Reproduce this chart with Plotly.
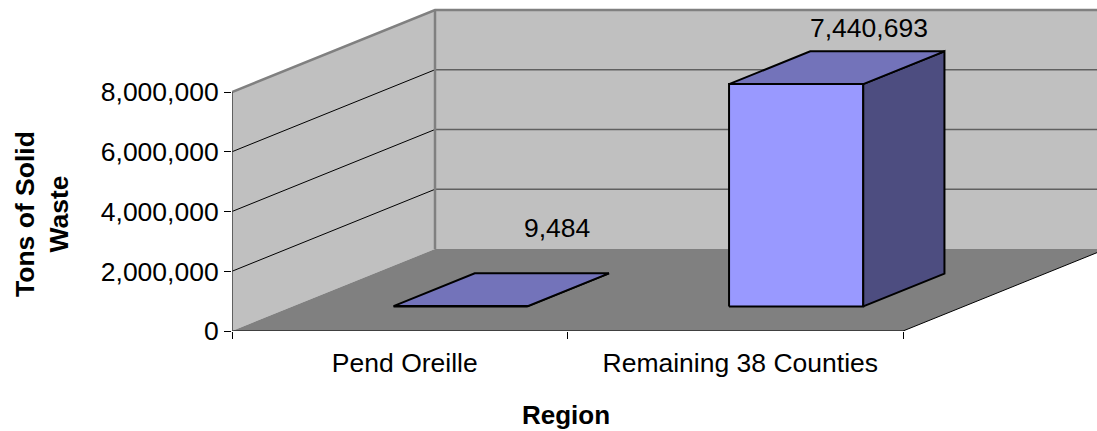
import plotly.graph_objects as go

categories = ["Pend Oreille", "Remaining 38 Counties"]
values = [9484, 7440693]
value_ticks = [0, 2000000, 4000000, 6000000, 8000000]

AXIS_MAX = 8000000
DEPTH_X = 203 / 335.5     # oblique projection: category units per full depth
DEPTH_Y = AXIS_MAX * 82 / 239   # value units per full depth
BAR_WIDTH = 0.4
BAR_D0, BAR_D1 = 0.3, 0.7
N = len(categories)
FONT = "Liberation Sans, Arial, sans-serif"


def proj(x, y, d):
    return x + d * DEPTH_X, y + d * DEPTH_Y


fig = go.Figure()


def poly(points, fill=None, line=None, width=1.0, close=True):
    pts = [proj(*p) for p in points]
    if close:
        pts.append(pts[0])
    fig.add_trace(go.Scatter(
        x=[p[0] for p in pts], y=[p[1] for p in pts], mode="lines",
        fill="toself" if fill else None, fillcolor=fill,
        line=dict(color=line or "rgba(0,0,0,0)", width=width),
        hoverinfo="skip", showlegend=False))


# walls and floor
poly([(0, 0, 1), (N, 0, 1), (N, AXIS_MAX, 1), (0, AXIS_MAX, 1)], fill="#C0C0C0")
poly([(0, 0, 0), (0, 0, 1), (0, AXIS_MAX, 1), (0, AXIS_MAX, 0)], fill="#C0C0C0")
poly([(0, 0, 0), (N, 0, 0), (N, 0, 1), (0, 0, 1)], fill="#808080")

# gridlines
for v in value_ticks[1:-1]:
    poly([(0, v, 0), (0, v, 1)], line="#000000", width=1, close=False)
    poly([(0, v, 1), (N, v, 1)], line="#606060", width=1.5, close=False)

# wall borders
poly([(0, AXIS_MAX, 0), (0, AXIS_MAX, 1), (N, AXIS_MAX, 1)], line="#808080", width=2.5, close=False)
poly([(0, 0, 1), (0, AXIS_MAX, 1)], line="#808080", width=2.5, close=False)
poly([(0, 0, 0), (N, 0, 0), (N, 0, 1)], line="#000000", width=1, close=False)

# bars
for i, v in enumerate(values):
    x0 = i + 0.5 - BAR_WIDTH / 2
    x1 = i + 0.5 + BAR_WIDTH / 2
    d0, d1 = BAR_D0, BAR_D1
    poly([(x0, 0, d0), (x1, 0, d0), (x1, v, d0), (x0, v, d0)], fill="#9999FF", line="#000000", width=2)
    poly([(x1, 0, d0), (x1, 0, d1), (x1, v, d1), (x1, v, d0)], fill="#4D4D80", line="#000000", width=2)
    poly([(x0, v, d0), (x1, v, d0), (x1, v, d1), (x0, v, d1)], fill="#7373BA", line="#000000", width=2)

# data labels
label_shift = [(15, 45), (-8, 23)]
for i, v in enumerate(values):
    px, py = proj(i + 0.5, v, BAR_D1)
    fig.add_annotation(x=px, y=py, text=f"{v:,}", showarrow=False,
                       xshift=label_shift[i][0], yshift=label_shift[i][1],
                       font=dict(family=FONT, size=26.5, color="#000000"))

U = AXIS_MAX / 239.0
fig.update_layout(
    width=1097, height=431, margin=dict(l=232, r=0, t=0, b=100, autoexpand=False),
    paper_bgcolor="#FFFFFF", plot_bgcolor="#FFFFFF", showlegend=False,
    font=dict(family=FONT, size=26.5, color="#000000"),
    xaxis=dict(range=[0, 865 / 335.5], showgrid=False, zeroline=False, showline=False,
               tickmode="array", tickvals=[0.515, 1.515], ticktext=categories,
               ticks="outside", ticklen=8, tickcolor="rgba(0,0,0,0)",
               minor=dict(tickmode="array", tickvals=[0, 1, 2], ticks="outside", ticklen=7,
                          tickcolor="#000000", tickwidth=1, showgrid=False)),
    yaxis=dict(range=[0, 331 * U], showgrid=False, zeroline=False, showline=False,
               tickmode="array", tickvals=value_ticks, tickformat=",",
               ticks="outside", ticklen=7, tickcolor="#000000", tickwidth=1,
               ticklabelstandoff=0),
    annotations=list(fig.layout.annotations) + [
        dict(text="<b>Region</b>", xref="paper", yref="paper", x=(566 - 232) / 865, y=(331 - 415) / 331,
             xanchor="center", yanchor="middle",
             showarrow=False, font=dict(family=FONT, size=26)),
        dict(text="<b>Tons of Solid<br>Waste</b>", xref="paper", yref="paper", x=(42 - 232) / 865,
             y=(331 - 214) / 331, xanchor="center", yanchor="middle",
             textangle=-90, showarrow=False, font=dict(family=FONT, size=26.5)),
    ],
)
fig.add_shape(type="line", xref="x", yref="y", x0=0, x1=0, y0=0, y1=AXIS_MAX, line=dict(color="#404040", width=1.5))

fig.write_html("out.html", post_script="document.body.style.margin='0';", config={"displayModeBar": False})
